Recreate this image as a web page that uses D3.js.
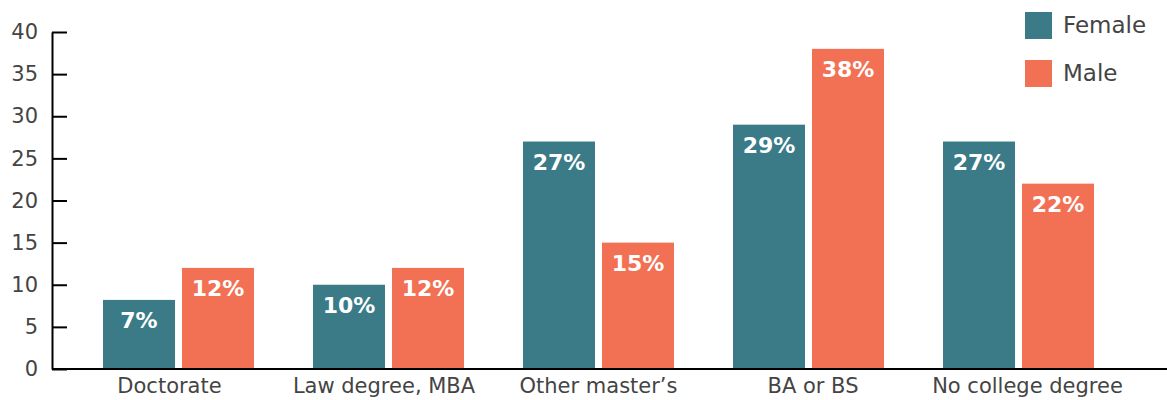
<!DOCTYPE html>
<html>
<head>
<meta charset="utf-8">
<script src="https://cdn.jsdelivr.net/npm/d3@7"></script>
<style>
  body { margin: 0; background: #fff; }
  svg { display: block; font-family: "DejaVu Sans", Verdana, sans-serif; }
</style>
</head>
<body>
<svg id="chart" width="1167" height="400"></svg>
<script>
// données
const categories = ["Doctorate", "Law degree, MBA", "Other master\u2019s", "BA or BS", "No college degree"];
const series = ["Female", "Male"];
const femaleValues = [8.2, 10, 27, 29, 27];
const maleValues = [12, 12, 15, 38, 22];
const femaleLabels = ["7%", "10%", "27%", "29%", "27%"];
const maleLabels = ["12%", "12%", "15%", "38%", "22%"];
const yTicks = [0, 5, 10, 15, 20, 25, 30, 35, 40];

const colors = {Female: "#3a7b87", Male: "#f27154"};
const textColor = "#444";

const svg = d3.select("#chart");

// échelles
const y = d3.scaleLinear().domain([0, 40]).range([369, 32]);
const x0 = d3.scaleBand().domain(categories).range([103, 1094]).paddingInner(0.281);
const x1 = d3.scaleBand().domain(series).range([0, x0.bandwidth()]).paddingInner(0.0886);
// position des libellés de catégories
const xLabel = d3.scalePoint().domain(categories).range([169, 1027]);

// lignes des données
const rows = categories.map((c, i) => ({
    cat: c,
    bars: [
        {key: "Female", value: femaleValues[i], label: femaleLabels[i]},
        {key: "Male", value: maleValues[i], label: maleLabels[i]}
    ]
}));

const groups = svg.append("g")
    .selectAll("g")
    .data(rows)
    .join("g")
    .attr("transform", d => `translate(${x0(d.cat)},0)`);

groups.selectAll("rect")
    .data(d => d.bars)
    .join("rect")
    .attr("x", d => x1(d.key))
    .attr("y", d => y(d.value))
    .attr("width", x1.bandwidth())
    .attr("height", d => y(0) - y(d.value))
    .attr("fill", d => colors[d.key]);

groups.selectAll("text")
    .data(d => d.bars)
    .join("text")
    .attr("x", d => x1(d.key) + x1.bandwidth() / 2)
    .attr("y", d => y(d.value) + 28)
    .attr("text-anchor", "middle")
    .attr("fill", "#fff")
    .attr("font-weight", "bold")
    .attr("font-size", 22)
    .text(d => d.label);

// axe Y
const yAxis = svg.append("g")
    .attr("transform", "translate(52,0)")
    .call(d3.axisLeft(y).tickValues(yTicks).tickSizeInner(-15).tickSizeOuter(0).tickPadding(14))
    .attr("font-family", null)
    .attr("font-size", 21);
yAxis.select(".domain").attr("stroke", "#000").attr("stroke-width", 2);
yAxis.selectAll(".tick line").attr("stroke", "#000").attr("stroke-width", 2);
yAxis.selectAll(".tick text").attr("fill", textColor);

// axe X
svg.append("line")
    .attr("x1", 52).attr("x2", 1167)
    .attr("y1", y(0)).attr("y2", y(0))
    .attr("stroke", "#000").attr("stroke-width", 2);

const xAxis = svg.append("g")
    .attr("transform", `translate(0,${y(0)})`)
    .call(d3.axisBottom(xLabel).tickSize(0).tickPadding(9))
    .attr("font-family", null)
    .attr("font-size", 21);
xAxis.select(".domain").remove();
xAxis.selectAll(".tick text").attr("fill", textColor);

// légende
const legend = svg.append("g")
    .selectAll("g")
    .data(series)
    .join("g")
    .attr("transform", (d, i) => `translate(1025,${12 + i * 48})`);

legend.append("rect")
    .attr("width", 27).attr("height", 27)
    .attr("fill", d => colors[d]);

legend.append("text")
    .attr("x", 38).attr("y", 21)
    .attr("fill", textColor)
    .attr("font-size", 23)
    .text(d => d);
</script>
</body>
</html>
